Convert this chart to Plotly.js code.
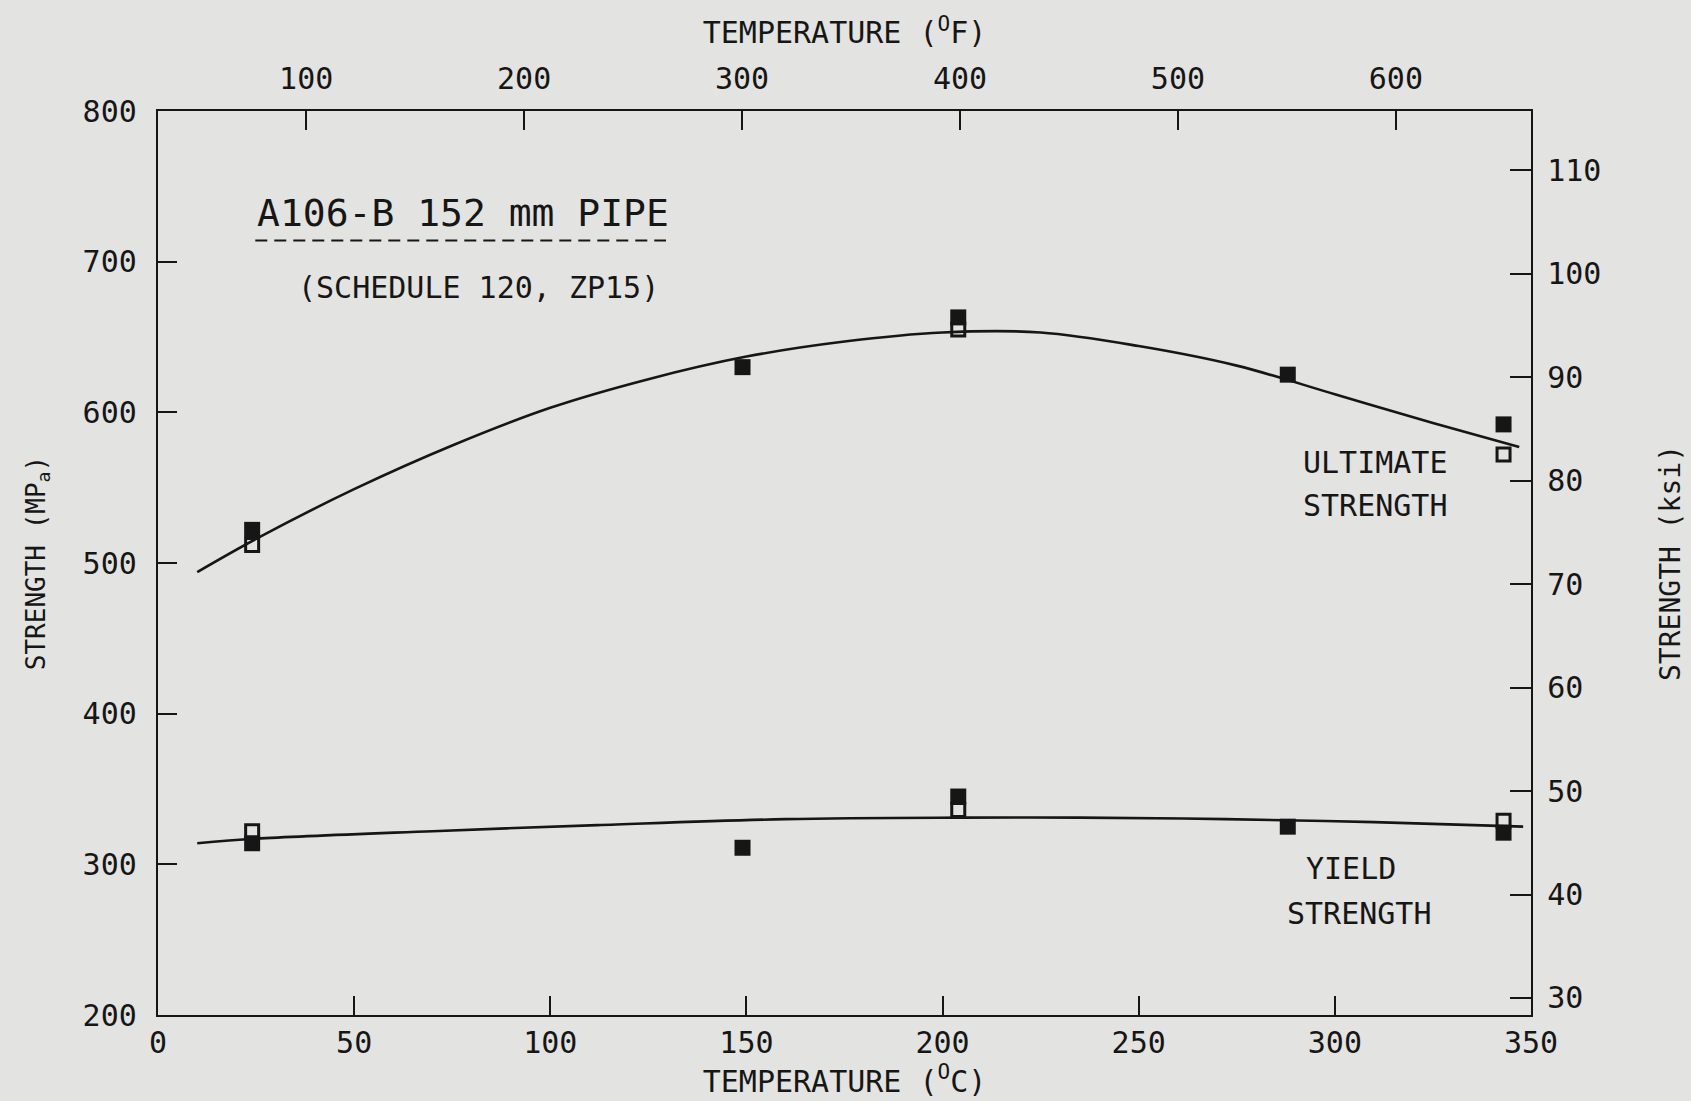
<!DOCTYPE html>
<html>
<head>
<meta charset="utf-8">
<script src="https://cdn.plot.ly/plotly-3.0.1.min.js"></script>
<style>
html,body{margin:0;padding:0;background:#e3e3e1;}
#chart{width:1691px;height:1101px;}
</style>
</head>
<body>
<div id="chart"></div>
<script>
// ---- data (temperatures in °C, strengths in MPa) ----
var testTempC = [24, 149, 204, 288, 343];

var ultimateFilled = [522, 630, 663, 625, 592];
var ultimateOpenTemp = [24, 204, 343];
var ultimateOpen = [512, 655, 572];

var yieldFilled = [314, 311, 345, 325, 321];
var yieldOpenTemp = [24, 204, 343];
var yieldOpen = [322, 336, 329];

// fitted curves
var ultCurveT = [10, 25, 50, 75, 100, 125, 150, 175, 200, 225, 250, 275, 300, 325, 347];
var ultCurveS = [494, 516, 549, 578, 603, 622, 637, 647, 653, 653, 644, 631, 612, 593, 577];

var yldCurveT = [10, 25, 70, 112, 160, 205, 235, 272, 310, 348];
var yldCurveS = [314, 317, 322, 326, 330, 331, 331, 330, 328, 325];

// axis tick labels
var cTicks = [0, 50, 100, 150, 200, 250, 300, 350];
var fTicks = [100, 200, 300, 400, 500, 600];
var mpaTicks = [200, 300, 400, 500, 600, 700, 800];
var ksiTicks = [30, 40, 50, 60, 70, 80, 90, 100, 110];

var ink = '#161616';
var FONT = 'DejaVu Sans Mono, monospace';

var traces = [
  {x: ultCurveT, y: ultCurveS, mode: 'lines', line: {color: ink, width: 2.6, shape: 'spline', smoothing: 1}, hoverinfo: 'skip', showlegend: false},
  {x: yldCurveT, y: yldCurveS, mode: 'lines', line: {color: ink, width: 2.6, shape: 'spline', smoothing: 1}, hoverinfo: 'skip', showlegend: false},
  {x: ultimateOpenTemp, y: ultimateOpen, mode: 'markers', marker: {symbol: 'square-open', size: 13, color: ink, line: {width: 3, color: ink}}, showlegend: false},
  {x: yieldOpenTemp, y: yieldOpen, mode: 'markers', marker: {symbol: 'square-open', size: 13, color: ink, line: {width: 3, color: ink}}, showlegend: false},
  {x: testTempC, y: ultimateFilled, mode: 'markers', marker: {symbol: 'square', size: 16, color: ink}, showlegend: false},
  {x: testTempC, y: yieldFilled, mode: 'markers', marker: {symbol: 'square', size: 16, color: ink}, showlegend: false},
  // invisible traces to activate secondary axes
  {x: [32, 662], y: [200, 200], xaxis: 'x2', yaxis: 'y', mode: 'markers', marker: {opacity: 0}, hoverinfo: 'skip', showlegend: false},
  {x: [0, 350], y: [30, 30], xaxis: 'x', yaxis: 'y2', mode: 'markers', marker: {opacity: 0}, hoverinfo: 'skip', showlegend: false}
];

var tickFont = {family: FONT, size: 30, color: ink};
var axisCommon = {
  showgrid: false, zeroline: false, showline: true, linecolor: ink, linewidth: 2.2,
  ticks: 'inside', ticklen: 19, tickwidth: 2, tickcolor: ink, tickfont: tickFont
};

var layout = {
  width: 1691, height: 1101,
  paper_bgcolor: '#e3e3e1', plot_bgcolor: '#e3e3e1',
  margin: {l: 158, r: 160, t: 111, b: 86},
  showlegend: false,
  font: {family: FONT, color: ink},
  xaxis: Object.assign({}, axisCommon, {
    range: [0, 350], tickvals: cTicks, ticktext: cTicks.map(String),
    title: {text: 'TEMPERATURE (<sup>O</sup>C)', font: {family: FONT, size: 30, color: ink}, standoff: 4},
    mirror: false
  }),
  xaxis2: Object.assign({}, axisCommon, {
    overlaying: 'x', side: 'top', anchor: 'y',
    range: [32, 662], tickvals: fTicks, ticktext: fTicks.map(String),
    ticklabelstandoff: 8,
    title: {text: 'TEMPERATURE (<sup>O</sup>F)', font: {family: FONT, size: 30, color: ink}, standoff: 8}
  }),
  yaxis: Object.assign({}, axisCommon, {
    range: [200, 800], tickvals: mpaTicks, ticktext: mpaTicks.map(String),
    ticklabelstandoff: 13,
    title: {text: 'STRENGTH (MP<sub>a</sub>)', font: {family: FONT, size: 26, color: ink}, standoff: 30}
  }),
  yaxis2: Object.assign({}, axisCommon, {
    overlaying: 'y', side: 'right', anchor: 'x',
    range: [28.35, 115.75], tickvals: ksiTicks, ticktext: ksiTicks.map(String),
    ticklen: 21, ticklabelstandoff: 8,
    title: {text: 'STRENGTH (ksi)', font: {family: FONT, size: 28, color: ink}, standoff: 60}
  }),
  shapes: [
    {type: 'line', xref: 'x', yref: 'y', x0: 24.8, x1: 129.5, y0: 714, y1: 714,
     line: {color: ink, width: 2, dash: '12px,7px'}}
  ],
  annotations: [
    {x: 24.8, y: 732, xref: 'x', yref: 'y', xanchor: 'left', yanchor: 'middle', showarrow: false,
     text: 'A106-B 152 mm PIPE', font: {family: FONT, size: 38, color: ink}},
    {x: 35.2, y: 683, xref: 'x', yref: 'y', xanchor: 'left', yanchor: 'middle', showarrow: false,
     text: '(SCHEDULE 120, ZP15)', font: {family: FONT, size: 30, color: ink}},
    {x: 310.3, y: 567, xref: 'x', yref: 'y', xanchor: 'center', yanchor: 'middle', showarrow: false,
     text: 'ULTIMATE', font: {family: FONT, size: 30, color: ink}},
    {x: 310.3, y: 538, xref: 'x', yref: 'y', xanchor: 'center', yanchor: 'middle', showarrow: false,
     text: 'STRENGTH', font: {family: FONT, size: 30, color: ink}},
    {x: 304.2, y: 297.5, xref: 'x', yref: 'y', xanchor: 'center', yanchor: 'middle', showarrow: false,
     text: 'YIELD', font: {family: FONT, size: 30, color: ink}},
    {x: 306.4, y: 267.5, xref: 'x', yref: 'y', xanchor: 'center', yanchor: 'middle', showarrow: false,
     text: 'STRENGTH', font: {family: FONT, size: 30, color: ink}}
  ]
};

Plotly.newPlot('chart', traces, layout, {staticPlot: true, displayModeBar: false});
</script>
</body>
</html>
